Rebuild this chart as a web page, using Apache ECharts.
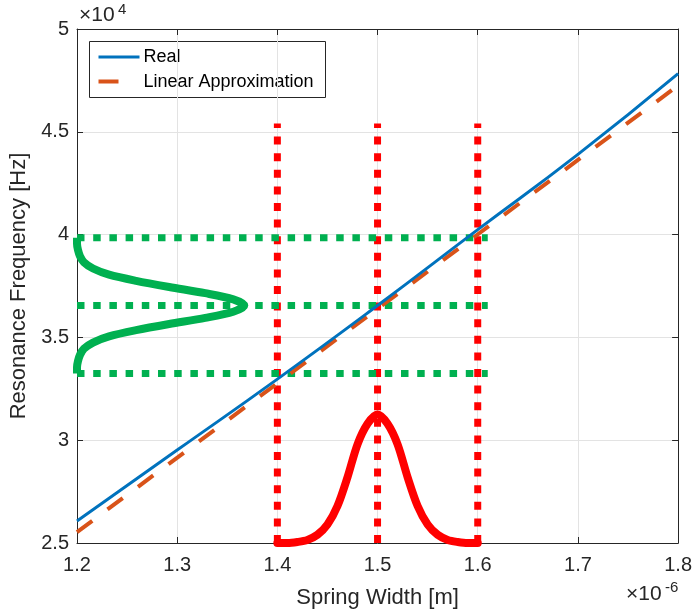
<!DOCTYPE html>
<html>
<head>
<meta charset="utf-8">
<script src="https://cdn.jsdelivr.net/npm/echarts@6/dist/echarts.min.js"></script>
<style>
  html, body { margin: 0; padding: 0; background: #fff; }
  #main { width: 695px; height: 616px; }
</style>
</head>
<body>
<div id="main"></div>
<script>
// spring width in 1e-6 m, frequency in 1e4 Hz
var realW = [1.2, 1.3, 1.4, 1.5, 1.6, 1.7, 1.8];
var realF = [2.607, 2.952, 3.297, 3.655, 4.024, 4.39, 4.783];

var linW = [1.2, 1.8];
var linF = [2.553, 4.725];

// width distribution (red) drawn on the frequency axis
var widthPdfW = [1.40, 1.41, 1.42, 1.43, 1.44, 1.45, 1.46, 1.47, 1.48, 1.49, 1.50,
                 1.51, 1.52, 1.53, 1.54, 1.55, 1.56, 1.57, 1.58, 1.59, 1.60];
var widthPdfF = [2.50, 2.50, 2.505, 2.515, 2.54, 2.59, 2.68, 2.82, 2.98, 3.08, 3.125,
                 3.08, 2.98, 2.82, 2.68, 2.59, 2.54, 2.515, 2.505, 2.50, 2.50];

// frequency distribution (green) drawn on the width axis
var freqPdfF = [3.325, 3.355, 3.385, 3.415, 3.445, 3.475, 3.505, 3.535, 3.565, 3.595, 3.625,
                3.655, 3.685, 3.715, 3.745, 3.775, 3.805, 3.835, 3.865, 3.895, 3.925, 3.955, 3.985];
var freqPdfW = [1.200, 1.200, 1.201, 1.203, 1.207, 1.216, 1.232, 1.259, 1.292, 1.328, 1.356,
                1.367, 1.356, 1.328, 1.292, 1.259, 1.232, 1.216, 1.207, 1.203, 1.201, 1.200, 1.200];

var markW = [1.4, 1.5, 1.6];
var markF = [3.325, 3.655, 3.985];
var markTopF = 4.54;
var markEndW = 1.61;

var xTicks = { min: 1.2, max: 1.8, step: 0.1 };
var yTicks = { min: 2.5, max: 5, step: 0.5 };

var legendNames = ['Real', 'Linear Approximation'];

var font = "'Liberation Sans', Arial, sans-serif";
var ink = '#262626';
var blue = '#0072bd';
var orange = '#d95319';

function pairs(xs, ys) {
  return xs.map(function (x, i) { return [x, ys[i]]; });
}

var chartDom = document.getElementById('main');
var myChart = echarts.init(chartDom, null, { renderer: 'canvas' });

var series = [];

// red dotted verticals
markW.forEach(function (w) {
  series.push({
    type: 'line', silent: true, symbol: 'none', z: 2,
    data: [[w, 2.5], [w, markTopF]],
    lineStyle: { color: '#ff0000', width: 7, type: [8, 8.6] }
  });
});
// green dotted horizontals
markF.forEach(function (f) {
  series.push({
    type: 'line', silent: true, symbol: 'none', z: 2,
    data: [[1.2, f], [markEndW, f]],
    lineStyle: { color: '#00b050', width: 7, type: [7.5, 8.7] }
  });
});

series.push({
  type: 'line', silent: true, symbol: 'none', smooth: 0.3, z: 3,
  data: pairs(widthPdfW, widthPdfF),
  lineStyle: { color: '#ff0000', width: 8, cap: 'round', join: 'round' }
});
series.push({
  type: 'line', silent: true, symbol: 'none', smooth: 0.3, z: 3,
  data: pairs(freqPdfW, freqPdfF),
  lineStyle: { color: '#00b050', width: 8, cap: 'butt', join: 'round' }
});

series.push({
  name: legendNames[0], type: 'line', symbol: 'none', smooth: true, z: 5,
  data: pairs(realW, realF),
  lineStyle: { color: blue, width: 3 }
});
series.push({
  name: legendNames[1], type: 'line', symbol: 'none', z: 4,
  data: pairs(linW, linF),
  lineStyle: { color: orange, width: 4, type: [19, 19] }
});

var boxAxisX = {
  type: 'value', min: xTicks.min, max: xTicks.max, interval: xTicks.step,
  axisLine: { show: true, onZero: false, lineStyle: { color: ink, width: 1 } },
  axisTick: { show: true, inside: true, length: 6, lineStyle: { color: ink } },
  splitLine: { show: false },
  axisLabel: { show: false }
};
var boxAxisY = {
  type: 'value', min: yTicks.min, max: yTicks.max, interval: yTicks.step,
  axisLine: { show: true, onZero: false, lineStyle: { color: ink, width: 1 } },
  axisTick: { show: true, inside: true, length: 6, lineStyle: { color: ink } },
  splitLine: { show: false },
  axisLabel: { show: false }
};

// legend box drawn by hand so the samples look like plain line strokes
var legendGraphic = {
  type: 'group', left: 89, top: 41, z: 100,
  children: [
    { type: 'rect', shape: { x: 0, y: 0, width: 236, height: 56 },
      style: { fill: '#fff', stroke: ink, lineWidth: 1 } },
    { type: 'line', shape: { x1: 9, y1: 15.5, x2: 50, y2: 15.5 },
      style: { stroke: blue, lineWidth: 3 } },
    { type: 'text', x: 54, y: 16,
      style: { text: legendNames[0], font: '18px ' + font, fill: '#000', verticalAlign: 'middle' } },
    { type: 'line', shape: { x1: 9, y1: 40, x2: 29, y2: 40 },
      style: { stroke: orange, lineWidth: 4 } },
    { type: 'text', x: 54, y: 41,
      style: { text: legendNames[1], font: '18px ' + font, fill: '#000', verticalAlign: 'middle' } }
  ]
};

var option = {
  animation: false,
  backgroundColor: '#fff',
  grid: { left: 77, right: 14, top: 29, bottom: 73 },
  xAxis: [
    {
      type: 'value', min: xTicks.min, max: xTicks.max, interval: xTicks.step,
      name: 'Spring Width [m]', nameLocation: 'middle', nameGap: 44,
      nameTextStyle: { fontFamily: font, fontSize: 22, color: ink },
      axisLine: { show: true, onZero: false, lineStyle: { color: ink, width: 1 } },
      axisTick: { show: true, inside: true, length: 6, lineStyle: { color: ink } },
      splitLine: { show: true, lineStyle: { color: '#e3e3e3', width: 1 } },
      axisLabel: {
        fontFamily: font, fontSize: 20, color: ink, margin: 12,
        formatter: function (v) { return v.toFixed(1); }
      }
    },
    Object.assign({ position: 'top' }, boxAxisX)
  ],
  yAxis: [
    {
      type: 'value', min: yTicks.min, max: yTicks.max, interval: yTicks.step,
      name: 'Resonance Frequency [Hz]', nameLocation: 'middle', nameGap: 40,
      nameTextStyle: { fontFamily: font, fontSize: 22, color: ink },
      axisLine: { show: true, onZero: false, lineStyle: { color: ink, width: 1 } },
      axisTick: { show: true, inside: true, length: 6, lineStyle: { color: ink } },
      splitLine: { show: true, lineStyle: { color: '#e3e3e3', width: 1 } },
      axisLabel: {
        fontFamily: font, fontSize: 20, color: ink, margin: 8,
        formatter: function (v) { return String(+v.toFixed(1)); }
      }
    },
    Object.assign({ position: 'right' }, boxAxisY)
  ],
  graphic: [
    legendGraphic,
    { type: 'text', left: 79, top: 5, silent: true,
      style: { text: '\u00d710', font: '21px ' + font, fill: ink } },
    { type: 'text', left: 118, top: 2, silent: true,
      style: { text: '4', font: '15px ' + font, fill: ink } },
    { type: 'text', left: 626, top: 584, silent: true,
      style: { text: '\u00d710', font: '21px ' + font, fill: ink } },
    { type: 'text', left: 665, top: 580, silent: true,
      style: { text: '-6', font: '15px ' + font, fill: ink } }
  ],
  series: series
};

myChart.setOption(option);
window.addEventListener('resize', function () { myChart.resize(); });
</script>
</body>
</html>
